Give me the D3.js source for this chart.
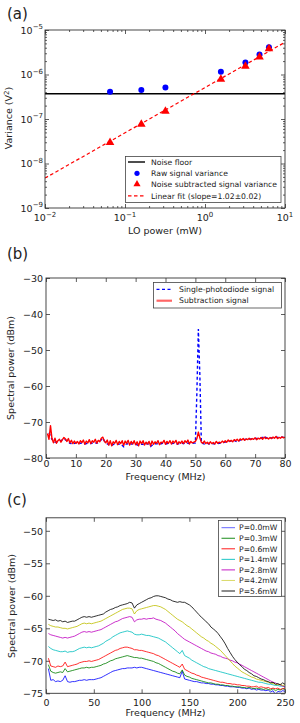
<!DOCTYPE html>
<html>
<head>
<meta charset="utf-8">
<style>
body { margin: 0; background: #fff; }
svg text { font-family: "DejaVu Sans", sans-serif; fill: #222; }
</style>
</head>
<body>
<svg id="fig" width="300" height="723"></svg>
<script src="https://d3js.org/d3.v7.min.js"></script>
<script>
// ---------- panel (a): variance vs LO power
var loPower     = [0.065, 0.16, 0.32, 1.58, 3.2, 4.8, 6.3];
var rawVariance = [4.1e-7, 4.5e-7, 5.1e-7, 1.15e-6, 1.87e-6, 2.8e-6, 4.1e-6];
var subVariance = [2.9e-8, 7.4e-8, 1.45e-7, 7.6e-7, 1.5e-6, 2.4e-6, 3.7e-6];
var noiseFloor  = 3.7e-7;
var fitPower    = [0.01, 10];
var fitVariance = [4.7e-9, 5.3e-6];
var aXTicks = [0.01, 0.1, 1, 10];
var aXExp   = [-2, -1, 0, 1];
var aYTicks = [1e-9, 1e-8, 1e-7, 1e-6, 1e-5];
var aYExp   = [-9, -8, -7, -6, -5];
var aLegend = ["Noise floor", "Raw signal variance", "Noise subtracted signal variance", "Linear fit (slope=1.02\u00b10.02)"];

// ---------- panel (b): spectrum, single diode vs subtraction
var bStart = 0.5, bStep = 0.5;   // red trace sampled every 0.5 MHz
var subSignal = [
 -73.2,-74.8,-71.0,-74.6,-75.8,-74.5,-75.9,-75.2,-74.8,-75.6,
 -74.9,-74.3,-74.7,-75.4,-74.6,-75.8,-75.1,-76.0,-75.3,-75.9,
 -75.4,-76.1,-75.2,-75.7,-75.0,-76.2,-75.3,-75.8,-74.9,-76.0,
 -75.2,-75.6,-74.8,-75.9,-75.1,-75.5,-74.5,-74.2,-75.3,-75.8,
 -75.0,-76.4,-75.2,-76.6,-75.5,-75.9,-75.1,-76.3,-75.4,-76.0,
 -75.2,-76.5,-75.3,-75.9,-75.1,-76.4,-75.4,-76.1,-75.2,-76.3,
 -75.5,-76.6,-75.3,-76.0,-75.2,-76.4,-75.6,-76.1,-75.4,-76.6,
 -75.3,-76.2,-75.5,-75.9,-75.2,-76.3,-75.6,-75.8,-75.1,-76.2,
 -75.4,-75.9,-75.2,-76.1,-75.3,-75.8,-75.1,-76.2,-75.5,-75.9,
 -75.3,-76.0,-75.2,-75.7,-75.0,-76.1,-75.4,-75.8,-75.6,-75.4,
 -74.6,-72.8,-74.4,-75.6,-75.9,-75.3,-76.0,-75.6,-76.1,-75.5,
 -76.0,-75.7,-76.1,-75.4,-75.9,-75.6,-75.8,-75.3,-75.7,-75.2,
 -75.6,-75.0,-75.4,-75.1,-75.5,-74.9,-75.2,-74.8,-75.3,-74.7,
 -75.0,-74.6,-75.1,-74.7,-74.9,-74.5,-74.9,-74.6,-74.8,-74.4,
 -74.9,-74.5,-74.7,-74.3,-74.8,-74.2,-74.6,-74.4,-74.7,-74.3,
 -74.6,-74.2,-74.5,-74.0,-74.6,-74.3,-74.5,-74.1,-74.4,-74.2
];
var diodeFreq = [1,2,3,4,5,6,7,8,9,10,11,12,13,14,15,16,17,18,19,20,21,22,23,24,25,
 26,27,28,29,30,31,32,33,34,35,36,37,38,39,40,41,42,43,44,45,46,47,48,49,50,
 50.5,51,51.5,52,53,54,55,56,57,58,59,60,61,62,63,64,65,66,67,68,69,70,71,72,73,74,75,76,77,78,79,80];
var diodeSignal = [-73.0,-74.8,-75.6,-75.4,-75.2,-74.6,-75.3,-75.9,-76.1,-75.8,
 -76.0,-75.8,-76.1,-75.9,-76.0,-75.7,-75.9,-75.4,-74.5,-75.9,
 -76.3,-76.5,-76.0,-76.2,-76.1,-76.9,-76.0,-76.3,-76.0,-76.2,
 -76.5,-76.1,-76.3,-76.0,-76.8,-76.1,-76.0,-76.2,-75.9,-76.1,
 -75.9,-76.0,-75.9,-76.1,-75.9,-76.0,-75.8,-76.0,-75.9,-75.8,
 -62.0,-44.2,-57.0,-75.8,
 -76.1,-75.9,-76.2,-76.0,-76.1,-75.9,-75.8,-75.6,-75.4,-75.3,
 -75.1,-75.6,-75.0,-74.9,-74.8,-74.8,-74.7,-74.6,-74.6,-74.5,
 -74.0,-74.5,-74.4,-74.4,-74.2,-74.3,-74.2,-74.3];
var bXTicks = [0, 10, 20, 30, 40, 50, 60, 70, 80];
var bYTicks = [-80, -70, -60, -50, -40, -30];
var bLegend = ["Single-photodiode signal", "Subtraction signal"];

// ---------- panel (c): spectra for several LO powers, every 2.5 MHz from 2.5 to 250
var cStart = 2.5, cStep = 2.5;
var p00 = [-71.2,-73.0,-72.9,-73.2,-73.1,-73.2,-73.0,-72.3,-73.2,-73.3,
 -73.2,-73.2,-73.1,-73.0,-73.0,-72.9,-73.0,-72.9,-72.9,-72.9,
 -72.8,-72.7,-72.6,-72.4,-72.2,-72.0,-71.8,-71.6,-71.5,-71.4,
 -71.3,-71.2,-71.2,-71.1,-71.1,-71.1,-71.0,-71.1,-71.0,-71.0,
 -71.1,-71.2,-71.3,-71.4,-71.5,-71.6,-71.7,-71.8,-71.9,-72.0,
 -72.1,-72.2,-72.3,-72.4,-72.5,-72.6,-71.6,-72.8,-72.9,-73.0,
 -73.1,-73.2,-73.2,-73.3,-73.4,-73.4,-73.5,-73.5,-73.6,-73.6,
 -73.7,-73.7,-73.8,-73.8,-73.9,-73.9,-74.0,-74.0,-74.0,-74.1,
 -74.1,-74.2,-74.2,-74.3,-74.2,-74.4,-74.3,-74.5,-74.4,-74.5,
 -74.5,-74.6,-74.5,-74.8,-74.6,-75.2,-74.7,-74.8,-74.6,-74.7];
var p03 = [-70.6,-71.6,-71.8,-71.9,-71.8,-71.7,-71.8,-71.2,-71.7,-71.6,
 -71.5,-71.4,-71.3,-71.2,-71.1,-71.1,-71.0,-71.1,-71.0,-71.0,
 -70.9,-70.8,-70.7,-70.5,-70.4,-70.2,-70.0,-69.9,-69.7,-69.6,
 -69.5,-69.4,-69.3,-69.2,-69.3,-69.4,-69.5,-69.5,-69.6,-69.6,
 -69.7,-69.8,-69.9,-70.0,-70.1,-70.3,-70.4,-70.6,-70.8,-71.0,
 -71.2,-71.4,-71.6,-71.7,-71.9,-72.0,-71.4,-72.2,-72.4,-72.5,
 -72.7,-72.8,-72.9,-73.0,-73.1,-73.2,-73.3,-73.4,-73.4,-73.5,
 -73.6,-73.6,-73.7,-73.7,-73.8,-73.8,-73.9,-73.9,-74.0,-74.0,
 -74.0,-74.1,-74.1,-74.2,-74.1,-74.2,-74.3,-74.2,-74.3,-74.3,
 -74.4,-74.3,-74.4,-74.5,-74.3,-74.6,-74.4,-74.5,-74.3,-74.4];
var p06 = [-69.6,-70.8,-70.9,-71.0,-70.8,-70.9,-70.8,-70.2,-70.9,-70.8,
 -70.7,-70.6,-70.5,-70.3,-70.2,-70.1,-70.1,-70.0,-70.1,-70.0,
 -69.9,-69.8,-69.6,-69.4,-69.2,-69.0,-68.8,-68.6,-68.4,-68.3,
 -68.1,-68.0,-67.9,-67.9,-68.0,-68.1,-68.3,-68.3,-68.4,-68.4,
 -68.5,-68.6,-68.7,-68.8,-68.9,-69.1,-69.2,-69.4,-69.6,-69.8,
 -70.0,-70.2,-70.4,-70.6,-70.8,-71.0,-70.5,-71.3,-71.5,-71.7,
 -71.9,-72.0,-72.2,-72.3,-72.5,-72.6,-72.7,-72.8,-72.9,-73.0,
 -73.1,-73.2,-73.3,-73.3,-73.4,-73.5,-73.5,-73.6,-73.6,-73.7,
 -73.7,-73.8,-73.8,-73.9,-73.9,-74.0,-74.0,-73.9,-74.1,-74.0,
 -74.1,-74.2,-74.1,-74.3,-74.2,-74.3,-74.2,-74.4,-74.3,-74.2];
var p14 = [-67.8,-68.1,-68.3,-68.4,-68.5,-68.6,-68.6,-68.5,-68.7,-68.6,
 -68.6,-68.5,-68.3,-68.1,-68.0,-67.9,-68.0,-67.9,-68.0,-67.9,
 -67.8,-67.7,-67.5,-67.3,-67.0,-66.8,-66.6,-66.3,-66.1,-65.9,
 -65.7,-65.6,-65.5,-65.4,-65.5,-65.6,-65.9,-66.0,-66.0,-65.9,
 -66.0,-66.1,-66.1,-66.2,-66.3,-66.4,-66.5,-66.7,-66.9,-67.1,
 -67.4,-67.7,-68.0,-68.3,-68.6,-68.9,-68.4,-69.2,-69.4,-69.6,
 -69.9,-70.1,-70.3,-70.5,-70.7,-70.9,-71.0,-71.2,-71.3,-71.4,
 -71.5,-71.6,-71.7,-71.8,-71.9,-72.0,-72.1,-72.2,-72.3,-72.4,
 -72.5,-72.6,-72.7,-72.8,-72.9,-73.0,-73.1,-73.2,-73.3,-73.3,
 -73.4,-73.5,-73.6,-73.6,-73.7,-73.8,-73.8,-73.9,-73.9,-74.0];
var p28 = [-65.8,-66.0,-66.1,-66.2,-66.3,-66.4,-66.5,-66.4,-66.5,-66.4,
 -66.3,-66.2,-66.0,-65.8,-65.6,-65.5,-65.6,-65.5,-65.6,-65.5,
 -65.4,-65.3,-65.2,-65.0,-64.8,-64.6,-64.4,-64.2,-64.0,-63.9,
 -63.7,-63.5,-63.4,-63.3,-63.2,-63.3,-64.0,-63.7,-63.6,-63.6,
 -63.5,-63.6,-63.5,-63.5,-63.4,-63.6,-63.7,-63.8,-64.0,-64.2,
 -64.5,-64.8,-65.1,-65.4,-65.8,-66.1,-66.4,-66.7,-66.9,-67.1,
 -67.3,-67.5,-67.7,-67.9,-68.1,-68.3,-68.5,-68.6,-68.8,-68.9,
 -69.0,-69.2,-69.3,-69.5,-69.6,-69.7,-69.9,-70.0,-70.2,-70.3,
 -70.5,-70.7,-70.9,-71.1,-71.3,-71.5,-71.7,-71.9,-72.1,-72.3,
 -72.5,-72.7,-72.9,-73.1,-73.3,-73.4,-73.6,-73.7,-73.9,-74.0];
var p42 = [-64.4,-64.6,-64.7,-64.8,-64.8,-64.9,-65.0,-65.0,-65.1,-65.0,
 -64.9,-64.8,-64.7,-64.5,-64.3,-64.2,-64.3,-64.2,-64.3,-64.2,
 -64.1,-64.0,-63.9,-63.7,-63.5,-63.3,-63.1,-62.9,-62.7,-62.5,
 -62.3,-62.1,-62.0,-61.9,-61.9,-62.0,-62.8,-62.3,-62.1,-62.0,
 -61.9,-61.8,-61.7,-61.6,-61.5,-61.5,-61.6,-61.7,-61.9,-62.1,
 -62.4,-62.7,-63.0,-63.3,-63.6,-63.8,-64.0,-64.3,-64.6,-64.8,
 -65.1,-65.4,-65.7,-66.0,-66.3,-66.5,-66.8,-67.0,-67.3,-67.5,
 -67.8,-68.1,-68.4,-68.8,-69.2,-69.6,-70.0,-70.4,-70.8,-71.1,
 -71.4,-71.7,-71.9,-72.1,-72.3,-72.5,-72.6,-72.8,-72.9,-73.0,
 -73.1,-73.2,-73.3,-73.4,-73.5,-73.6,-73.7,-73.6,-73.8,-73.7];
var p56 = [-63.6,-63.7,-63.8,-63.7,-63.9,-63.8,-64.0,-63.9,-64.1,-64.0,
 -63.9,-63.9,-63.7,-63.5,-63.3,-63.2,-63.3,-63.2,-63.3,-63.2,
 -63.1,-63.0,-62.9,-62.8,-62.5,-62.3,-62.1,-62.0,-61.8,-61.7,
 -61.5,-61.4,-61.3,-61.2,-61.0,-61.1,-61.9,-61.4,-61.2,-61.0,
 -60.8,-60.6,-60.4,-60.3,-60.1,-60.0,-60.0,-60.1,-60.2,-60.3,
 -60.5,-60.6,-60.8,-60.9,-61.0,-60.9,-61.0,-61.0,-61.2,-61.4,
 -61.7,-62.1,-62.5,-62.9,-63.3,-63.6,-64.0,-64.3,-64.8,-65.1,
 -65.4,-65.8,-66.3,-66.8,-67.4,-68.1,-68.7,-69.3,-69.8,-70.2,
 -70.6,-70.9,-71.3,-71.5,-71.8,-72.0,-72.3,-72.4,-72.6,-72.8,
 -72.9,-73.1,-73.2,-73.4,-73.3,-73.6,-73.5,-73.7,-73.4,-73.6];
var cLabels = ["P=0.0mW", "P=0.3mW", "P=0.6mW", "P=1.4mW", "P=2.8mW", "P=4.2mW", "P=5.6mW"];
var cColors = ["#0000ff", "#008000", "#ff0000", "#00bfbf", "#bf00bf", "#bfbf00", "#000000"];
var cXTicks = [0, 50, 100, 150, 200, 250];
var cYTicks = [-75, -70, -65, -60, -55, -50];

var svg = d3.select("#fig");
var tickCol = "#333";

// ticks pointing inward on all four sides, frame drawn as a rect
function innerTicks(g, x, y, xt, yt, len) {
  var xr = x.range(), yr = y.range();
  g.append("g").attr("transform", "translate(0," + yr[0] + ")")
    .call(d3.axisBottom(x).tickValues(xt).tickSize(-len).tickFormat(""));
  g.append("g").attr("transform", "translate(0," + yr[1] + ")")
    .call(d3.axisTop(x).tickValues(xt).tickSize(-len).tickFormat(""));
  g.append("g").attr("transform", "translate(" + xr[0] + ",0)")
    .call(d3.axisLeft(y).tickValues(yt).tickSize(-len).tickFormat(""));
  g.append("g").attr("transform", "translate(" + xr[1] + ",0)")
    .call(d3.axisRight(y).tickValues(yt).tickSize(-len).tickFormat(""));
  g.selectAll(".domain").remove();
  g.selectAll(".tick line").attr("stroke", tickCol).attr("stroke-width", 0.8);
}
function frame(g, x, y) {
  var xr = x.range(), yr = y.range();
  g.append("rect").attr("x", xr[0]).attr("y", yr[1])
    .attr("width", xr[1] - xr[0]).attr("height", yr[0] - yr[1])
    .attr("fill", "none").attr("stroke", "#333").attr("stroke-width", 0.9);
}
function numLabels(g, x, y, xt, yt, xBase, yRight) {
  g.append("g").attr("transform", "translate(0," + xBase + ")")
    .call(d3.axisBottom(x).tickValues(xt).tickSize(0).tickPadding(0))
    .call(function(a) { a.select(".domain").remove(); a.selectAll("text").attr("dy", 0).attr("font-size", 9.5).attr("fill", "#222"); });
  g.append("g").attr("transform", "translate(" + yRight + ",0)")
    .call(d3.axisLeft(y).tickValues(yt).tickSize(0).tickPadding(0))
    .call(function(a) { a.select(".domain").remove(); a.selectAll("text").attr("dy", "0.35em").attr("font-size", 9.5).attr("fill", "#222"); });
  g.selectAll(".tick text").attr("font-family", "DejaVu Sans");
}
function powText(t, e) {
  t.append("tspan").text("10");
  t.append("tspan").attr("dy", -4.5).attr("font-size", 7).text(e < 0 ? "\u2212" + (-e) : String(e));
}
function yLabel(cx, cy, txt) {
  return svg.append("text").attr("transform", "translate(" + cx + "," + cy + ") rotate(-90)")
    .attr("text-anchor", "middle").attr("font-size", 9.5).text(txt);
}
function panelTag(x, y, txt) {
  svg.append("text").attr("x", x).attr("y", y).attr("font-size", 15).text(txt);
}

// ================= panel (a)
var xA = d3.scaleLog().domain([0.01, 10]).range([45, 285]);
var yA = d3.scaleLog().domain([1e-9, 1e-5]).range([208, 30]);
var gA = svg.append("g");
gA.append("clipPath").attr("id", "clipA").append("rect")
  .attr("x", 45).attr("y", 30).attr("width", 240).attr("height", 178);
var minorX = xA.ticks().filter(function(v) { return aXTicks.indexOf(v) < 0; });
var minorY = yA.ticks().filter(function(v) { return aYTicks.indexOf(v) < 0; });
innerTicks(gA, xA, yA, aXTicks, aYTicks, 4);
innerTicks(gA, xA, yA, minorX, minorY, 2);

var plotA = gA.append("g").attr("clip-path", "url(#clipA)");
plotA.append("line").attr("x1", xA(0.01)).attr("x2", xA(10))
  .attr("y1", yA(noiseFloor)).attr("y2", yA(noiseFloor))
  .attr("stroke", "#000").attr("stroke-width", 1.4);
plotA.append("path").datum(d3.zip(fitPower, fitVariance))
  .attr("d", d3.line().x(function(d) { return xA(d[0]); }).y(function(d) { return yA(d[1]); }))
  .attr("fill", "none").attr("stroke", "#ff0000").attr("stroke-width", 1.2).attr("stroke-dasharray", "3.5,2.5");
plotA.selectAll(".raw").data(d3.zip(loPower, rawVariance)).enter().append("circle")
  .attr("cx", function(d) { return xA(d[0]); }).attr("cy", function(d) { return yA(d[1]); })
  .attr("r", 3).attr("fill", "#0000ff");
var tri = d3.symbol().type(d3.symbolTriangle).size(32);
plotA.selectAll(".sub").data(d3.zip(loPower, subVariance)).enter().append("path")
  .attr("d", tri).attr("fill", "#ff0000")
  .attr("transform", function(d) { return "translate(" + xA(d[0]) + "," + (yA(d[1]) - 0.5) + ")"; });
frame(gA, xA, yA);

aXTicks.forEach(function(v, i) {
  var t = gA.append("text").attr("x", xA(v)).attr("y", 221).attr("text-anchor", "middle").attr("font-size", 9.5);
  powText(t, aXExp[i]);
});
aYTicks.forEach(function(v, i) {
  var t = gA.append("text").attr("x", 43).attr("y", yA(v) + 3.5).attr("text-anchor", "end").attr("font-size", 9.5);
  powText(t, aYExp[i]);
});
svg.append("text").attr("x", 165).attr("y", 233.5).attr("text-anchor", "middle").attr("font-size", 9.5).text("LO power (mW)");
var vl = yLabel(12, 118, "Variance (V");
vl.append("tspan").attr("dy", -3.5).attr("font-size", 7).text("2");
vl.append("tspan").attr("dy", 3.5).text(")");

// legend (a)
var legA = svg.append("g");
legA.append("rect").attr("x", 125.5).attr("y", 156.5).attr("width", 155.5).attr("height", 46)
  .attr("fill", "#fff").attr("stroke", "#444").attr("stroke-width", 0.8);
var rowA = [162, 173.3, 184.5, 195.8];
legA.append("line").attr("x1", 128).attr("x2", 145).attr("y1", rowA[0]).attr("y2", rowA[0]).attr("stroke", "#000").attr("stroke-width", 1.4);
legA.append("circle").attr("cx", 137).attr("cy", rowA[1]).attr("r", 2.6).attr("fill", "#0000ff");
legA.append("path").attr("d", d3.symbol().type(d3.symbolTriangle).size(22)).attr("fill", "#ff0000")
  .attr("transform", "translate(137," + (rowA[2] - 0.3) + ")");
legA.append("line").attr("x1", 128).attr("x2", 145).attr("y1", rowA[3]).attr("y2", rowA[3]).attr("stroke", "#ff0000").attr("stroke-width", 1.2).attr("stroke-dasharray", "3.5,2.5");
aLegend.forEach(function(s, i) {
  legA.append("text").attr("x", 151).attr("y", rowA[i] + 2.7).attr("font-size", 7.7).text(s);
});
panelTag(7, 19, "(a)");

// ================= panel (b)
var xB = d3.scaleLinear().domain([0, 80]).range([46, 285]);
var yB = d3.scaleLinear().domain([-80, -30]).range([458, 278]);
var gB = svg.append("g");
innerTicks(gB, xB, yB, bXTicks, bYTicks, 4);
var lineB = d3.line().x(function(d) { return xB(d[0]); }).y(function(d) { return yB(d[1]); });
gB.append("path").datum(d3.zip(diodeFreq, diodeSignal)).attr("d", lineB)
  .attr("fill", "none").attr("stroke", "#0000ff").attr("stroke-width", 1.4).attr("stroke-dasharray", "3,2.5");
gB.append("path").datum(subSignal.map(function(v, i) { return [bStart + i * bStep, v]; })).attr("d", lineB)
  .attr("fill", "none").attr("stroke", "#ff0000").attr("stroke-width", 1.4).attr("stroke-linejoin", "round");
frame(gB, xB, yB);
numLabels(gB, xB, yB, bXTicks, bYTicks, 466.5, 43);
svg.append("text").attr("x", 165.5).attr("y", 480).attr("text-anchor", "middle").attr("font-size", 9.5).text("Frequency (MHz)");
yLabel(13.5, 368, "Spectral power (dBm)");
var legB = svg.append("g");
legB.append("rect").attr("x", 153.5).attr("y", 282.5).attr("width", 128).attr("height", 25.5)
  .attr("fill", "#fff").attr("stroke", "#444").attr("stroke-width", 0.8);
var rowB = [289.3, 300.7];
legB.append("line").attr("x1", 156.5).attr("x2", 172).attr("y1", rowB[0]).attr("y2", rowB[0])
  .attr("stroke", "#0000ff").attr("stroke-width", 1.3).attr("stroke-dasharray", "3,2.5");
legB.append("line").attr("x1", 156.5).attr("x2", 172).attr("y1", rowB[1]).attr("y2", rowB[1])
  .attr("stroke", "#ff0000").attr("stroke-opacity", 0.6).attr("stroke-width", 2.2);
bLegend.forEach(function(s, i) {
  legB.append("text").attr("x", 179).attr("y", rowB[i] + 2.7).attr("font-size", 7.7).text(s);
});
panelTag(7, 259, "(b)");

// ================= panel (c)
var xC = d3.scaleLinear().domain([0, 250]).range([46, 285]);
var yC = d3.scaleLinear().domain([-75, -48]).range([693.3, 517.8]);
var gC = svg.append("g");
gC.append("clipPath").attr("id", "clipC").append("rect")
  .attr("x", 46).attr("y", 517.8).attr("width", 239).attr("height", 175.5);
innerTicks(gC, xC, yC, cXTicks, cYTicks, 4);
var seriesC = [p00, p03, p06, p14, p28, p42, p56];
var lineC = d3.line().x(function(d, i) { return xC(cStart + i * cStep); }).y(function(d) { return yC(d); });
var plotC = gC.append("g").attr("clip-path", "url(#clipC)");
seriesC.forEach(function(vals, k) {
  plotC.append("path").datum(vals).attr("d", lineC)
    .attr("fill", "none").attr("stroke", cColors[k]).attr("stroke-width", 0.9).attr("stroke-opacity", 0.9);
});
frame(gC, xC, yC);
numLabels(gC, xC, yC, cXTicks, cYTicks, 705.5, 43);
svg.append("text").attr("x", 165.5).attr("y", 716).attr("text-anchor", "middle").attr("font-size", 9.5).text("Frequency (MHz)");
yLabel(15, 606, "Spectral power (dBm)");
var legC = svg.append("g");
legC.append("rect").attr("x", 218.5).attr("y", 520.5).attr("width", 63).attr("height", 76)
  .attr("fill", "#fff").attr("stroke", "#444").attr("stroke-width", 0.8);
cLabels.forEach(function(s, i) {
  var yy = 527.7 + i * 10.55;
  legC.append("line").attr("x1", 221.5).attr("x2", 235).attr("y1", yy).attr("y2", yy)
    .attr("stroke", cColors[i]).attr("stroke-width", 1).attr("stroke-opacity", (i === 0 || i === 5) ? 0.6 : 0.9);
  legC.append("text").attr("x", 239).attr("y", yy + 2.7).attr("font-size", 7.7).text(s);
});
panelTag(7, 505, "(c)");
</script>
</body>
</html>
